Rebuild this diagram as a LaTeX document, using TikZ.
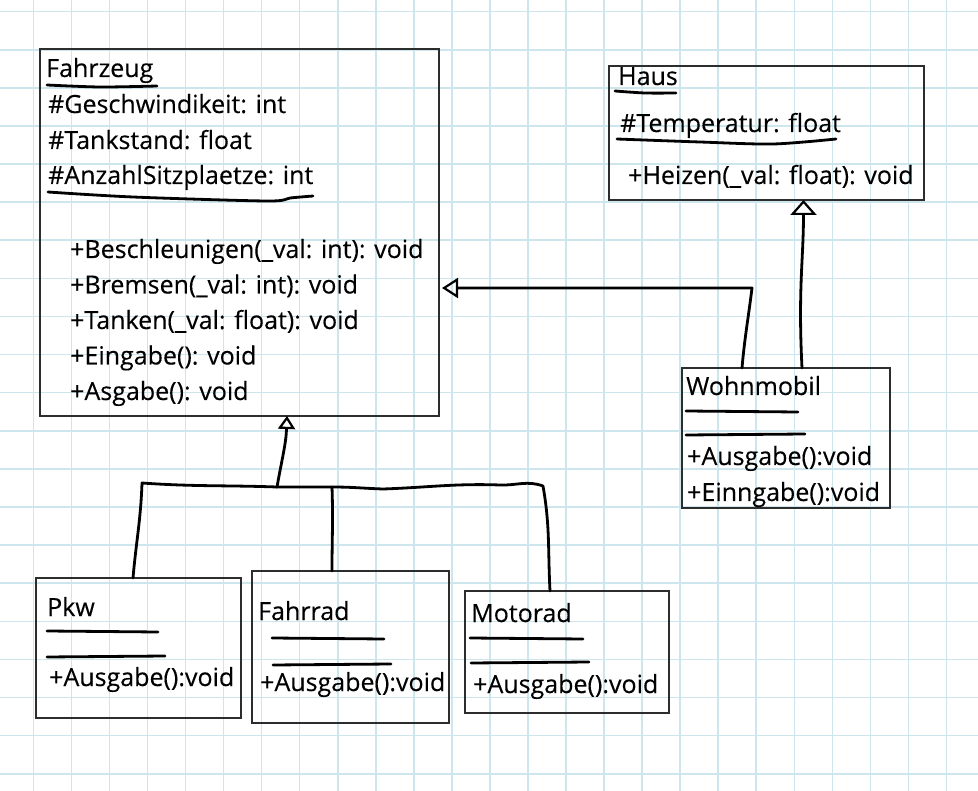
\documentclass[tikz,border=0pt]{standalone}
\usepackage{fontspec}
\setmainfont{Open Sans}[FakeBold=0.25]
\usetikzlibrary{arrows.meta,positioning,calc}
\definecolor{gridblue}{RGB}{205,229,237}
\definecolor{boxgray}{RGB}{45,45,45}

\begin{document}
\begin{tikzpicture}[x=1pt, y=-1pt, font=\fontsize{25}{30}\selectfont,
  box/.style={draw=boxgray, line width=2pt, outer sep=0pt, inner sep=0pt},
  txt/.style={anchor=base west, inner sep=0pt},
  hand/.style={line width=2.8pt, line cap=round, line join=round},
  inh/.style 2 args={-{Triangle[open, length=#1pt, width=#2pt, line width=2.2pt]}}]
\useasboundingbox (0,0) rectangle (978,791);
% grid paper
\foreach \k in {0,...,24} \draw[gridblue, line width=1.6pt] ({33.3+38.05*\k},0) -- ({33.3+38.05*\k},791);
\foreach \k in {0,...,20} \draw[gridblue, line width=1.6pt] (0,{11.7+38.1*\k}) -- (978,{11.7+38.1*\k});
% fahrzeug
\node[box, minimum width=399pt, minimum height=367pt] (fahrzeug) at (239.5,232.5) {};
\node[txt] (fzname) at (46,77) {Fahrzeug};
\node[txt] (fzattr1) at (48,113) {\#Geschwindikeit: int};
\node[txt] (fzattr2) at (48,149) {\#Tankstand: float};
\node[txt] (fzattr3) at (48,184) {\#AnzahlSitzplaetze: int};
\foreach \m [count=\i] in {+Beschleunigen(\_val: int): void, +Bremsen(\_val: int): void, +Tanken(\_val: float): void, +Eingabe(): void, +Asgabe(): void}
  \node[txt] (fzop\i) at (70,{222.5+35.5*\i}) {\m};
\draw[hand] plot[smooth] coordinates {(47,85) (100,87) (157,86)};
\draw[hand] plot[smooth] coordinates {(48,192) (133,197) (267,201) (290,198) (313,196)};
% haus
\node[box, minimum width=315pt, minimum height=134pt] (haus) at (766.5,133) {};
\node[txt] (hsname) at (618,85) {Haus};
\node[txt] (hsattr) at (620,132) {\#Temperatur: float};
\node[txt] (hsop) at (628,184) {+Heizen(\_val: float): void};
\draw[hand] plot[smooth] coordinates {(615,91) (645,93) (676,93)};
\draw[hand] plot[smooth] coordinates {(617,139) (700,142) (773,144) (836,139)};
% wohnmobil
\node[box, minimum width=208pt, minimum height=140pt] (wohnmobil) at (786,438) {};
\node[txt] (wmname) at (686,395) {Wohnmobil};
\node[txt] (wmop1) at (687,465) {+Ausgabe():void};
\node[txt] (wmop2) at (687,501) {+Einngabe():void};
\draw[hand] (686,411) -- (798,412);
\draw[hand] (686,435) -- (805,434);
% pkw
\node[box, minimum width=205pt, minimum height=140pt] (pkw) at (138.5,648) {};
\node[txt] (pkwname) at (47,616) {Pkw};
\node[txt] (pkwop) at (49,686) {+Ausgabe():void};
\draw[hand] (47,631) -- (158,632);
\draw[hand] (47,657) -- (165,656);
% fahrrad
\node[box, minimum width=197pt, minimum height=152pt] (fahrrad) at (350.5,647) {};
\node[txt] (frname) at (258,620) {Fahrrad};
\node[txt] (frop) at (260,691) {+Ausgabe():void};
\draw[hand] (272,638) -- (384,639);
\draw[hand] (273,665) -- (391,664);
% motorad
\node[box, minimum width=204pt, minimum height=122pt] (motorad) at (567,652) {};
\node[txt] (mrname) at (471,622) {Motorad};
\node[txt] (mrop) at (473,693) {+Ausgabe():void};
\draw[hand] (470,638) -- (583,639);
\draw[hand] (471,663) -- (589,662);
% inheritance
\coordinate (wmcorner) at (752,288);
\draw[hand, inh={16}{20}] ([xshift=-44pt]wohnmobil.north) to[out=85,in=-97] (wmcorner) -- ([xshift=3pt]fahrzeug.east |- wmcorner);
\draw[hand, inh={15}{26}] ([xshift=16pt]wohnmobil.north) .. controls +(-4,-80) and +(0,60) .. ([xshift=37pt]haus.south);
\coordinate (bus) at (277,487);
\coordinate (busl) at (142,483);
\coordinate (busm) at (332,487);
\coordinate (busr) at (543,486);
\draw[hand] ([xshift=-5.5pt]pkw.north) to[out=85,in=-92] (busl) to[out=-4,in=178] (bus);
\draw[hand] ([xshift=-18.5pt]fahrrad.north) to[out=90,in=-88] (busm) -- (bus);
\draw[hand] ([xshift=-17pt]motorad.north) to[out=93,in=-80] (busr) to[out=160,in=-2] (500,485) to[out=178,in=2] (383,489) to[out=178,in=0] (busm);
\draw[hand, inh={13}{17}] (bus) to[out=80,in=-92] ([xshift=47.5pt]fahrzeug.south);
\end{tikzpicture}
\end{document}
